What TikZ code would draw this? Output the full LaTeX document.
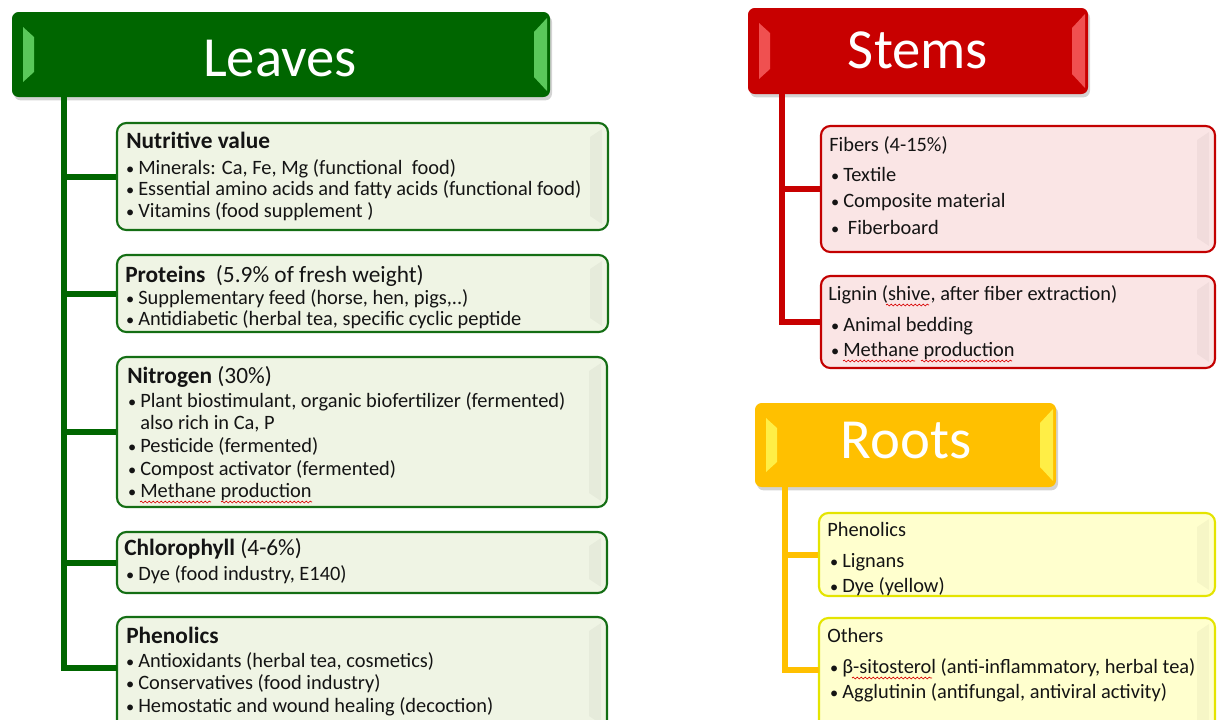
\documentclass[tikz,border=0pt]{standalone}
\usepackage{fontspec}
\setmainfont{Carlito}
\usetikzlibrary{fit,shadows,decorations.pathmorphing}

\definecolor{lvG}{RGB}{0,102,0}
\definecolor{lvLine}{RGB}{0,102,0}
\definecolor{lvBevel}{RGB}{90,200,90}
\definecolor{lvFill}{RGB}{239,244,228}
\definecolor{lvBorder}{RGB}{20,110,20}
\definecolor{stR}{RGB}{200,0,0}
\definecolor{stBevel}{RGB}{240,80,80}
\definecolor{stBorder}{RGB}{195,0,0}
\definecolor{stFill}{RGB}{250,229,229}
\definecolor{rtY}{RGB}{255,192,0}
\definecolor{rtBevel}{RGB}{255,238,70}
\definecolor{rtBorder}{RGB}{228,228,0}
\definecolor{rtFill}{RGB}{255,255,206}
\definecolor{txt}{RGB}{20,20,20}

\newcommand{\bodyf}{\fontsize{15.3}{18}\selectfont}
\newcommand{\headf}{\fontsize{17.5}{20}\selectfont}
\newcommand{\titlef}{\fontsize{42.5}{50}\selectfont}
\newcommand{\bu}[1][7.5pt]{\makebox[#1][l]{\hspace{-1.6pt}\scalebox{0.8}{•}}}
\newcommand{\hdrbevel}[5]{%
  \fill[#5] ({#1+11},{#2+15}) -- ({#1+22},{#2+25}) -- ({#1+22},{#4-25}) -- ({#1+11},{#4-15}) -- cycle;
  \fill[#5] ({#3-3},{#2+6}) -- ({#3-16},{#2+20}) -- ({#3-16},{#4-20}) -- ({#3-3},{#4-6}) -- cycle;}
\newcommand{\boxbevel}[3]{%
  \fill[black, opacity=0.035] ({#1-18},{#2+14}) -- ({#1-6},{#2+6}) -- ({#1-6},{#3-6}) -- ({#1-18},{#3-14}) -- cycle;}

\tikzset{
  hdr/.style={rounded corners=5pt, inner sep=0pt, drop shadow={opacity=0.35, shadow xshift=1.5pt, shadow yshift=-2.5pt}},
  title/.style={anchor=base, inner sep=0pt, text=white, font=\titlef},
  box/.style={rounded corners=7pt, inner sep=0pt, line width=1.6pt},
  lvbox/.style={box, draw=lvBorder, fill=lvFill},
  stbox/.style={box, draw=stBorder, fill=stFill},
  rtbox/.style={box, draw=rtBorder, fill=rtFill},
  tx/.style={anchor=base west, inner sep=0pt, font=\bodyf, text=txt},
  hx/.style={anchor=base west, inner sep=0pt, font=\headf, text=txt},
  trunk/.style={line width=4.5pt},
  squig/.style={draw=red!85!black, line width=0.5pt, decorate, decoration={snake, amplitude=0.7pt, segment length=3pt}}
}

\begin{document}
\begin{tikzpicture}[x=0.75pt, y=-0.75pt]
\useasboundingbox (0,0) rectangle (1217,719);
\clip (0,0) rectangle (1217,719);

% ---------------- Leaves ----------------
\node[hdr, fill=lvG, fit={(12,12) (550,97)}] (leaves) {};
\hdrbevel{12}{12}{550}{97}{lvBevel}
\node[title] (leavesT) at (280,76) {Leaves};

\node[lvbox, fit={(117,123) (608,230)}] (nut) {};
\node[lvbox, fit={(117,255) (608,332)}] (pro) {};
\node[lvbox, fit={(117,357) (607,507)}] (nit) {};
\node[lvbox, fit={(117,532) (607,593)}] (chl) {};
\node[lvbox, fit={(117,617) (607,730)}] (phe) {};
\boxbevel{608}{123}{230}
\boxbevel{608}{255}{332}
\boxbevel{607}{357}{507}
\boxbevel{607}{532}{593}
\boxbevel{607}{617}{730}
\coordinate (pheIn) at (117,668);

\coordinate (ltrunk) at (64,97);
\foreach \b in {nut,pro,nit,chl}
  \draw[lvLine, trunk] (ltrunk) |- (\b.west);
\draw[lvLine, trunk] (ltrunk) |- (pheIn);

\node[hx] (nut0) at (126,148) {\textbf{Nutritive value}};
\node[tx] (nut1) at (128,174) {\bu Minerals: Ca, Fe, Mg (functional~ food)};
\node[tx] (nut2) at (128,195.5) {\bu Essential amino acids and fatty acids (functional food)};
\node[tx] (nut3) at (128,217) {\bu Vitamins (food supplement )};

\node[hx] (pro0) at (125,282) {\textbf{Proteins}~ (5.9\% of fresh weight)};
\node[tx] (pro1) at (128,304) {\bu Supplementary feed (horse, hen, pigs,..)};
\node[tx] (pro2) at (128,325) {\bu Antidiabetic (herbal tea, specific cyclic peptide};

\node[hx] (nit0) at (127,383) {\textbf{Nitrogen} (30\%)};
\node[tx] (nit1) at (130,407) {\bu Plant biostimulant, organic biofertilizer (fermented)};
\node[tx] (nit2) at (140,429) {also rich in Ca, P};
\node[tx] (nit3) at (130,452) {\bu Pesticide (fermented)};
\node[tx] (nit4) at (130,475) {\bu Compost activator (fermented)};
\node[tx] (nit5) at (130,497) {\bu Methane production};

\node[hx] (chl0) at (124,555) {\textbf{Chlorophyll} (4-6\%)};
\node[tx] (chl1) at (128,580) {\bu Dye (food industry, E140)};

\node[hx] (phe0) at (126,643) {\textbf{Phenolics}};
\node[tx] (phe1) at (128,667) {\bu Antioxidants (herbal tea, cosmetics)};
\node[tx] (phe2) at (128,689) {\bu Conservatives (food industry)};
\node[tx] (phe3) at (128,712) {\bu Hemostatic and wound healing (decoction)};

% ---------------- Stems ----------------
\node[hdr, fill=stR, fit={(748,8) (1088,94)}] (stems) {};
\hdrbevel{748}{8}{1088}{94}{stBevel}
\node[title] (stemsT) at (918,68) {Stems};

\node[stbox, fit={(821,126) (1215,252)}] (fib) {};
\node[stbox, fit={(821,276) (1215,368)}] (lig) {};
\boxbevel{1215}{126}{252}
\boxbevel{1215}{276}{368}

\coordinate (strunk) at (782,94);
\foreach \b in {fib,lig}
  \draw[stR, trunk] (strunk) |- (\b.west);

\node[tx] (fib0) at (829,151) {Fibers (4-15\%)};
\node[tx] (fib1) at (833,181) {\bu Textile};
\node[tx] (fib2) at (833,207) {\bu Composite material};
\node[tx] (fib3) at (833,234) {\bu\hspace{3.5pt}Fiberboard};

\node[tx] (lig0) at (828,300) {Lignin (shive, after fiber extraction)};
\node[tx] (lig1) at (833,331) {\bu Animal bedding};
\node[tx] (lig2) at (833,356) {\bu Methane production};

% ---------------- Roots ----------------
\node[hdr, fill=rtY, fit={(755,403) (1056,487)}] (roots) {};
\hdrbevel{755}{403}{1056}{487}{rtBevel}
\node[title] (rootsT) at (906,458) {Roots};

\node[rtbox, fit={(819,513) (1215,596)}] (rph) {};
\node[rtbox, fit={(819,618) (1215,735)}] (oth) {};
\boxbevel{1215}{513}{596}
\boxbevel{1215}{618}{735}
\coordinate (othIn) at (819,670);

\coordinate (rtrunk) at (785,487);
\draw[rtY, trunk] (rtrunk) |- (rph.west);
\draw[rtY, trunk] (rtrunk) |- (othIn);

\node[tx] (rph0) at (827,536) {Phenolics};
\node[tx] (rph1) at (832,567) {\bu Lignans};
\node[tx] (rph2) at (832,592) {\bu Dye (yellow)};

\node[tx] (oth0) at (827,642) {Others};
\node[tx] (oth1) at (832,673) {\bu β-sitosterol (anti-inflammatory, herbal tea)};
\node[tx] (oth2) at (832,698) {\bu Agglutinin (antifungal, antiviral activity)};

% spell-check squiggles
\draw[squig] (140,502) -- (211,502);
\draw[squig] (221,502) -- (312,502);
\draw[squig] (843,361) -- (915,361);
\draw[squig] (921,361) -- (1012,361);
\draw[squig] (886,305) -- (929,305);
\draw[squig] (852,678) -- (932,678);
\end{tikzpicture}
\end{document}
